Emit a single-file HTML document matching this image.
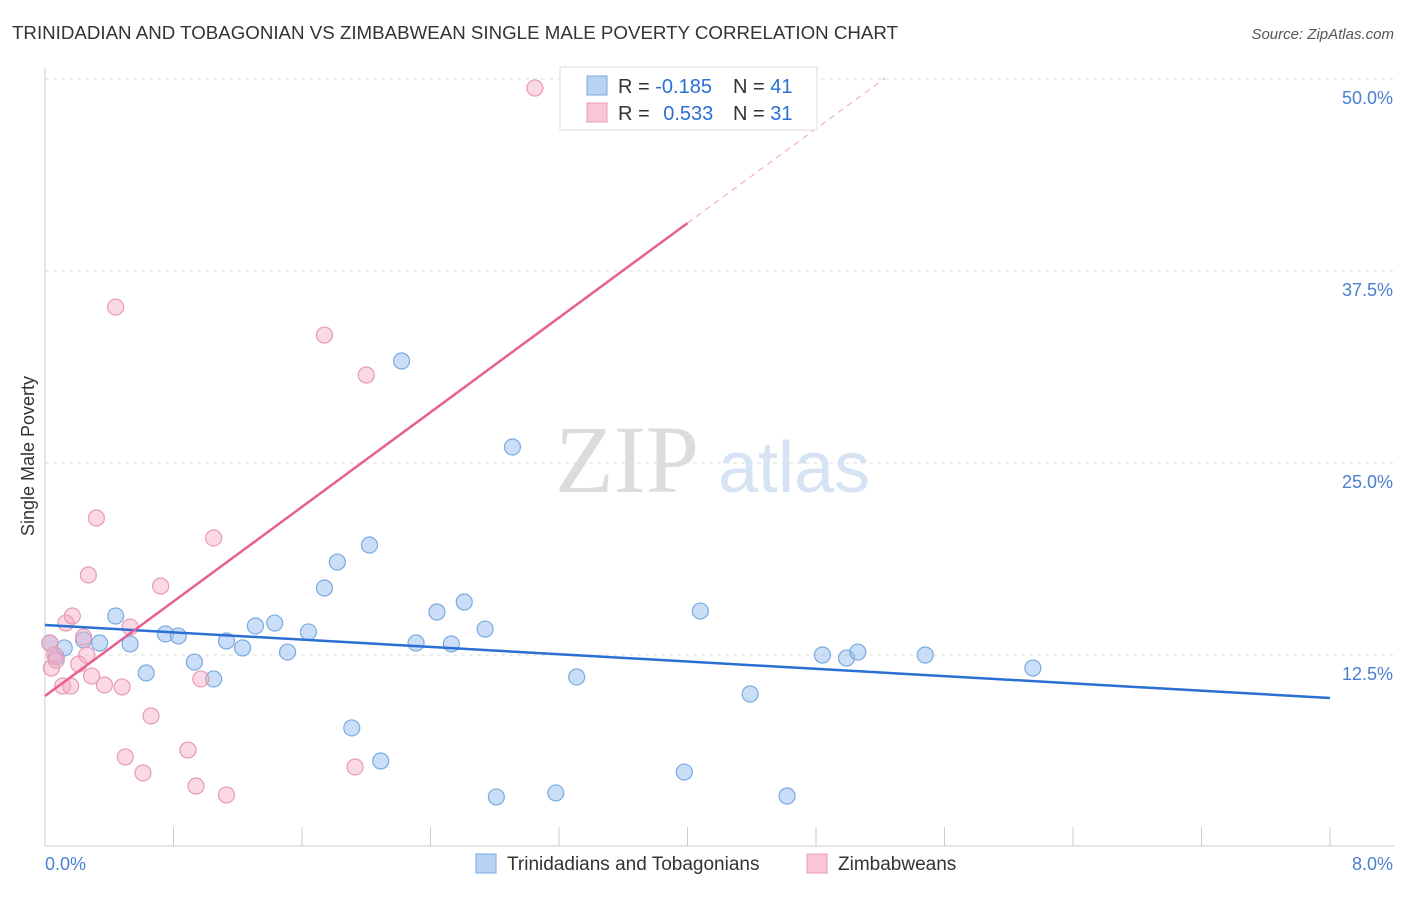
<!DOCTYPE html>
<html><head><meta charset="utf-8"><style>
body{margin:0;background:#fff;font-family:"Liberation Sans",sans-serif;}
svg text{font-family:"Liberation Sans",sans-serif;}
</style></head><body>
<svg width="1406" height="892" viewBox="0 0 1406 892" xmlns="http://www.w3.org/2000/svg">
<text x="12" y="39" font-size="18" fill="#333" textLength="886" lengthAdjust="spacingAndGlyphs">TRINIDADIAN AND TOBAGONIAN VS ZIMBABWEAN SINGLE MALE POVERTY CORRELATION CHART</text>
<text x="1394" y="39" font-size="15" fill="#555" font-style="italic" text-anchor="end">Source: ZipAtlas.com</text>
<g id="grid"></g>
<g><text x="555" y="492" font-size="96" fill="#dcdcdc" style="font-family:'Liberation Serif',serif">ZIP</text><text x="718" y="492" font-size="72" fill="#d5e3f5">atlas</text></g>
<line x1="45" y1="68" x2="45" y2="846" stroke="#ccc"/>
<line x1="45" y1="846" x2="1394" y2="846" stroke="#ccc"/>
<g id="xticks"></g>
<text x="45" y="870" font-size="18" fill="#4a7fd0">0.0%</text>
<text x="1393" y="870" font-size="18" fill="#4a7fd0" text-anchor="end">8.0%</text>
<text transform="translate(34,456) rotate(-90)" font-size="18" fill="#333" text-anchor="middle">Single Male Poverty</text>
<g id="pts"></g>
<g id="lines"></g>
<g>
<rect x="560" y="67" width="257" height="63" fill="#fff" stroke="#ddd"/>
<rect x="587" y="76" width="20" height="19" fill="#b8d2f4" stroke="#7aaae0"/>
<rect x="587" y="103" width="20" height="19" fill="#f8c6d6" stroke="#e89ab4"/>
<text x="618" y="93" font-size="20" fill="#333">R = <tspan fill="#2a6fd4">-0.185</tspan></text>
<text x="733" y="93" font-size="20" fill="#333">N = <tspan fill="#2a6fd4">41</tspan></text>
<text x="618" y="120" font-size="20" fill="#333">R = <tspan fill="#2a6fd4" dx="8">0.533</tspan></text>
<text x="733" y="120" font-size="20" fill="#333">N = <tspan fill="#2a6fd4">31</tspan></text>
</g>
<g>
<rect x="476" y="854" width="20" height="19" fill="#b8d2f4" stroke="#7aaae0"/>
<text x="507" y="870" font-size="19" fill="#333">Trinidadians and Tobagonians</text>
<rect x="807" y="854" width="20" height="19" fill="#f8c6d6" stroke="#e89ab4"/>
<text x="838" y="870" font-size="19" fill="#333">Zimbabweans</text>
</g>
</svg>
<script>
const yTicks=[12.5,25,37.5,50];
const yTickLabels=["12.5%","25.0%","37.5%","50.0%"];
const xTicks=[0,0.8,1.6,2.4,3.2,4.0,4.8,5.6,6.4,7.2,8.0];
const blueX=[0.03,0.07,0.12,0.24,0.34,0.44,0.53,0.63,0.75,0.83,0.93,1.05,1.13,1.23,1.31,1.43,1.51,1.64,1.74,1.82,1.91,2.02,2.09,2.22,2.31,2.44,2.53,2.61,2.74,2.81,2.91,3.18,3.31,3.98,4.08,4.39,4.62,4.84,4.99,5.06,5.48,6.15];
const blueY=[13.28,12.37,12.96,13.48,13.28,15.04,13.22,11.33,13.87,13.74,12.04,10.94,13.41,12.96,14.39,14.58,12.69,14.0,16.86,18.55,7.75,19.66,5.6,31.64,13.28,15.3,13.22,15.95,14.19,3.26,26.04,3.52,11.07,4.88,15.36,9.96,3.32,12.5,12.3,12.69,12.5,11.65];
const pinkX=[0.03,0.04,0.06,0.11,0.13,0.16,0.17,0.21,0.24,0.26,0.27,0.29,0.32,0.37,0.44,0.48,0.53,0.61,0.66,0.72,0.89,0.94,0.97,1.05,1.13,1.74,1.93,2.0,3.05,0.5,0.07];
const pinkY=[13.28,11.65,12.5,10.48,14.58,10.48,15.04,11.91,13.67,12.5,17.71,11.13,21.42,10.55,35.15,10.42,14.32,4.82,8.53,16.99,6.31,3.97,10.94,20.12,3.39,33.33,5.21,30.73,49.41,5.86,12.17];
const blueTrend=[[0,14.45],[8,9.70]];
const pinkTrend=[[0,9.83],[4.0,40.62]];
const pinkTrendExt=[[4.0,40.62],[5.23,50.06]];
const NS="http://www.w3.org/2000/svg";
const sx=v=>45+v/8*1285, sy=v=>847-v/12.5*192;
function mk(tag,attrs,parent){const e=document.createElementNS(NS,tag);for(const k in attrs)e.setAttribute(k,attrs[k]);document.getElementById(parent).appendChild(e);return e;}
yTicks.forEach((t,i)=>{
 const l=mk('line',{x1:45,x2:1394,y1:sy(t),y2:sy(t),stroke:'#ddd','stroke-dasharray':'4,4'},'grid');
 
 
 const tx=mk('text',{x:1393,y:sy(t)+25,'font-size':18,fill:'#4a7fd0','text-anchor':'end'},'grid');
 tx.textContent=yTickLabels[i];
 
 
});
xTicks.forEach(t=>{
 const l=mk('line',{x1:sx(t),x2:sx(t),y1:827,y2:846,stroke:'#ccc'},'xticks');
 
 
});
blueX.forEach((x,i)=>{
 const c=mk('circle',{cx:sx(x),cy:sy(blueY[i]),r:8,fill:'rgba(150,190,240,0.5)',stroke:'#7aaae0','stroke-width':1.2},'pts');
 
 
});
pinkX.forEach((x,i)=>{
 const c=mk('circle',{cx:sx(x),cy:sy(pinkY[i]),r:8,fill:'rgba(245,170,195,0.45)',stroke:'#e89ab4','stroke-width':1.2},'pts');
 
 
});
function tl(p,col,dash,name){
 const l=mk('line',{x1:sx(p[0][0]),y1:sy(p[0][1]),x2:sx(p[1][0]),y2:sy(p[1][1]),stroke:col,'stroke-width':dash?1:2.5},'lines');
 if(dash)l.setAttribute('stroke-dasharray','6,5');
 
 
}
tl(blueTrend,'#2a6fd4',false,'trend-line-trinidadian');
tl(pinkTrend,'#e8608f',false,'trend-line-zimbabwean');
tl(pinkTrendExt,'#f0a0bb',true,'trend-line-zimbabwean-extension');
</script>
</body></html>
